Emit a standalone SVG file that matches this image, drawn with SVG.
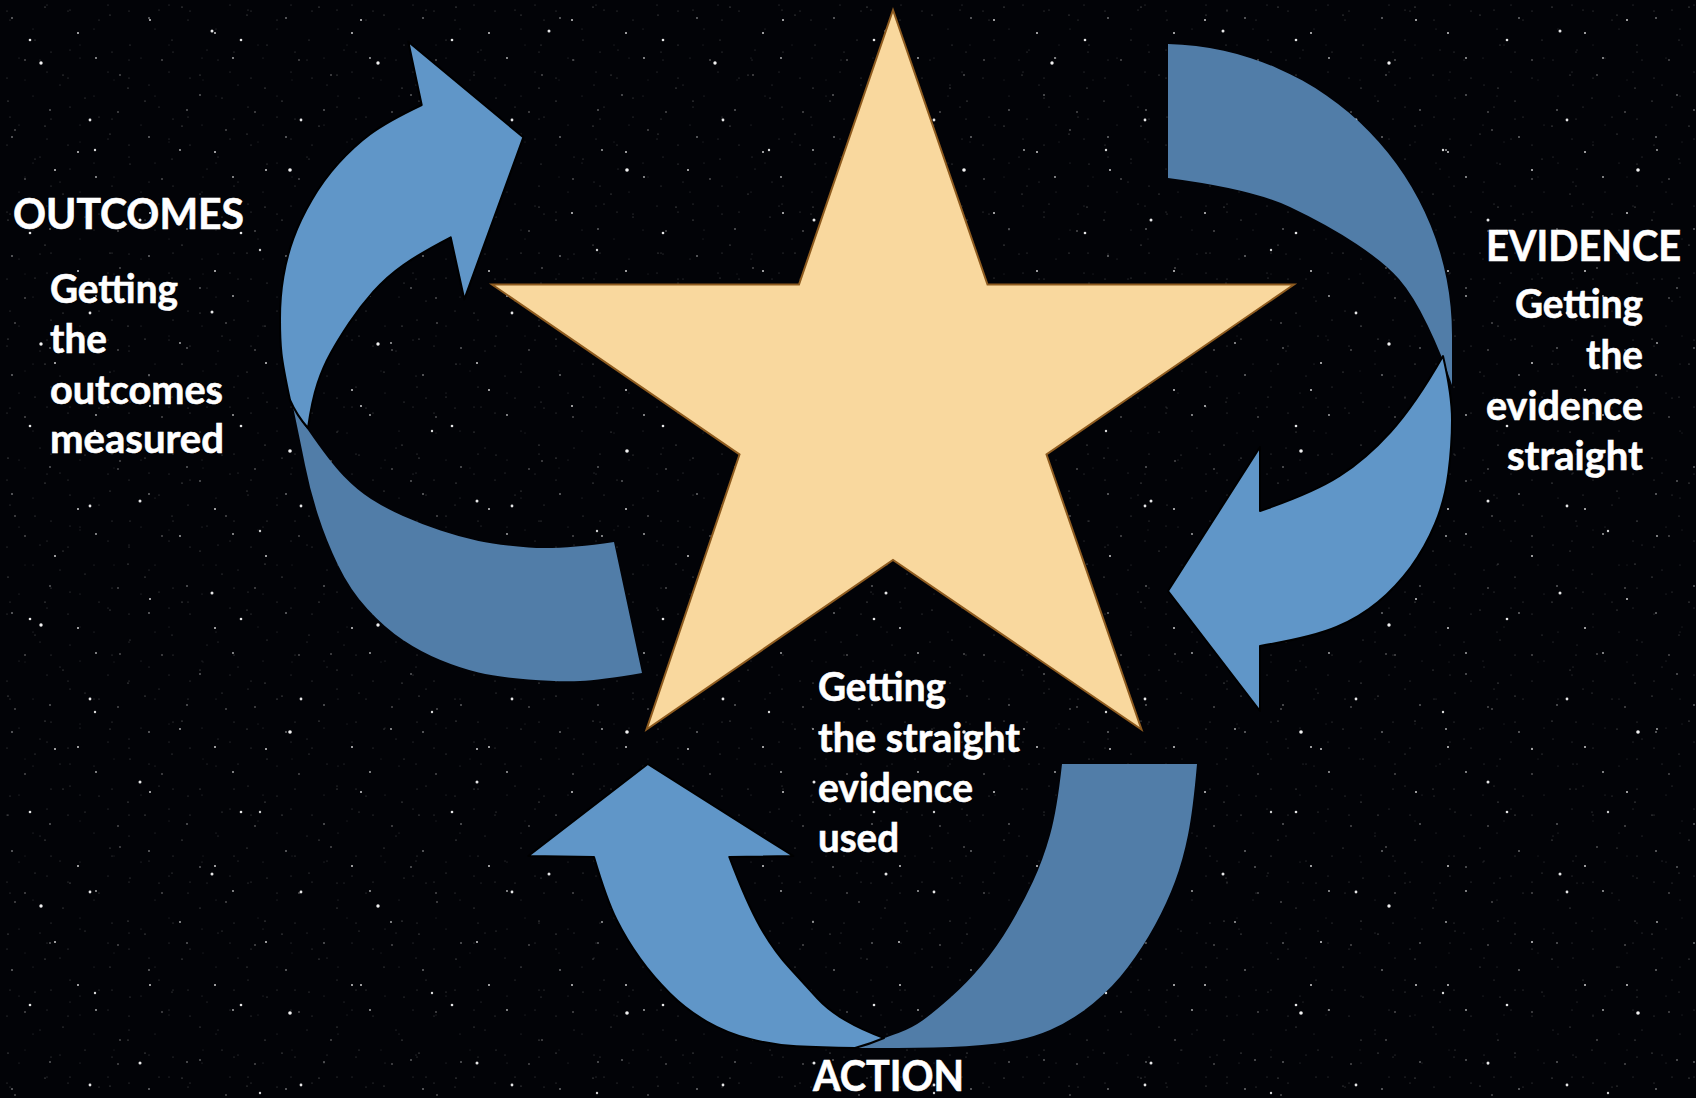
<svg xmlns="http://www.w3.org/2000/svg" width="1696" height="1098" viewBox="0 0 1696 1098">
<defs>
<style>
.bg{fill:#020307}
.sf{fill:#ffffff}
.star{fill:#F9D89E;stroke:#8E5B1F;stroke-width:2;stroke-linejoin:miter}
.dark{fill:#517DA8}
.light{fill:#6096C8;stroke:#000;stroke-width:2;stroke-linejoin:round}
.hd{font-family:Lato,"Open Sans","Liberation Sans",sans-serif;font-weight:bold;font-size:42px;fill:#fff;stroke:#fff;stroke-width:0.6}
.bd{font-family:Lato,"Open Sans","Liberation Sans",sans-serif;font-weight:bold;font-size:40px;fill:#fff;stroke:#fff;stroke-width:0.6}
</style>
<pattern id="p1" width="137" height="119" patternUnits="userSpaceOnUse">
<g class="sf">
<circle cx="12" cy="18" r="0.8" opacity="0.7"/><circle cx="45" cy="7" r="0.6" opacity="0.5"/><circle cx="78" cy="33" r="1" opacity="0.8"/><circle cx="110" cy="15" r="0.6" opacity="0.4"/><circle cx="25" cy="60" r="0.7" opacity="0.6"/><circle cx="63" cy="75" r="0.5" opacity="0.5"/><circle cx="96" cy="58" r="0.9" opacity="0.7"/><circle cx="128" cy="88" r="0.6" opacity="0.5"/><circle cx="8" cy="101" r="0.6" opacity="0.5"/><circle cx="50" cy="110" r="0.8" opacity="0.6"/><circle cx="85" cy="98" r="0.5" opacity="0.4"/><circle cx="118" cy="112" r="0.7" opacity="0.6"/><circle cx="35" cy="40" r="0.5" opacity="0.4"/><circle cx="70" cy="50" r="0.4" opacity="0.5"/><circle cx="130" cy="45" r="0.5" opacity="0.4"/>
</g>
</pattern>
<pattern id="p2" width="211" height="193" patternUnits="userSpaceOnUse">
<g class="sf">
<circle cx="30" cy="40" r="1.3" opacity="0.9"/><circle cx="150" cy="20" r="1" opacity="0.8"/><circle cx="90" cy="120" r="1.4" opacity="0.9"/><circle cx="180" cy="150" r="0.9" opacity="0.7"/><circle cx="55" cy="170" r="1" opacity="0.8"/><circle cx="120" cy="75" r="0.7" opacity="0.6"/><circle cx="200" cy="95" r="0.8" opacity="0.6"/><circle cx="15" cy="130" r="0.7" opacity="0.6"/>
</g>
</pattern>
<pattern id="p3" width="89" height="97" patternUnits="userSpaceOnUse">
<g class="sf">
<circle cx="10" cy="20" r="0.5" opacity="0.35"/><circle cx="40" cy="60" r="0.5" opacity="0.3"/><circle cx="70" cy="10" r="0.5" opacity="0.35"/><circle cx="60" cy="85" r="0.5" opacity="0.3"/><circle cx="25" cy="80" r="0.4" opacity="0.3"/><circle cx="80" cy="45" r="0.45" opacity="0.3"/>
</g>
</pattern>
<pattern id="p4" width="61" height="67" patternUnits="userSpaceOnUse">
<g class="sf">
<circle cx="7" cy="11" r="0.55" opacity="0.3"/><circle cx="33" cy="29" r="0.5" opacity="0.25"/><circle cx="51" cy="52" r="0.55" opacity="0.3"/><circle cx="19" cy="58" r="0.5" opacity="0.25"/><circle cx="47" cy="5" r="0.5" opacity="0.3"/>
</g>
</pattern>
<pattern id="p5" width="337" height="281" patternUnits="userSpaceOnUse">
<g class="sf">
<circle cx="41" cy="63" r="1.7" opacity="0.95"/><circle cx="212" cy="31" r="1.5" opacity="0.9"/><circle cx="290" cy="170" r="1.8" opacity="0.95"/><circle cx="140" cy="220" r="1.5" opacity="0.9"/><circle cx="95" cy="150" r="1.2" opacity="0.85"/><circle cx="260" cy="250" r="1.2" opacity="0.8"/>
</g>
</pattern>
</defs>

<g id="background">
<rect class="bg" x="0" y="0" width="1696" height="1098"/>
<rect x="0" y="0" width="1696" height="1098" fill="url(#p4)"/>
<rect x="0" y="0" width="1696" height="1098" fill="url(#p3)"/>
<rect x="0" y="0" width="1696" height="1098" fill="url(#p1)"/>
<rect x="0" y="0" width="1696" height="1098" fill="url(#p2)"/>
<rect x="0" y="0" width="1696" height="1098" fill="url(#p5)"/>
</g>

<g id="star">
<polygon class="star" points="893,10 987.5,284.5 1294,284.5 1046.5,454.5 1141.5,729.5 893,560 646.5,729.5 739.5,454.5 492,284.5 799,284.5"/>
</g>

<g id="connectors">
<g id="arrow-outcomes">
<path class="dark" d="M 292,402 Q 300,440 305,465 Q 310,490 318,515 Q 326,540 338,565 Q 350,590 367.5,609 Q 385,628 403,640 Q 421,652 440.5,660 Q 460,668 478.5,672.5 Q 497,677 528.5,679.5 Q 560,682 580,681 Q 600,680 642,673 L 614,542 Q 560,550 528.5,547.5 Q 497,545 478.5,541 Q 460,537 440.5,530.5 Q 421,524 403,516 Q 385,508 371,499 Q 357,490 343.5,476 Q 330,462 308,430 Q 298,418 292,402 Z"/>
<path class="light" d="M 421.7,105 L 408.3,41.7 L 523.3,137.3 L 464.3,299.3 L 450.7,237.3 Q 420,253.3 403.4,265 Q 386.7,276.7 373.4,291.7 Q 360,306.7 349,323.4 Q 338,340 330.5,353.5 Q 323,367 317.5,383.5 Q 312,400 308,428 Q 297,416 290,400 Q 283,367 281.5,353.5 Q 280,340 280,318.4 Q 280,296.7 283.4,276.7 Q 286.7,256.7 293.4,238.4 Q 300,220 311.7,200 Q 323.3,180 338.3,163.4 Q 353.3,146.7 370,134.2 Q 386.7,121.7 421.7,105 Z"/>
</g>
<g id="arrow-evidence">
<path class="dark" d="M 1168,44 A 291 291 0 0 1 1452,335 L 1452,385 Q 1442,355 1427.5,325 Q 1413,295 1399,279 Q 1385,263 1356.5,244 Q 1328,225 1290,207 Q 1252,189 1168,178 Z"/>
<path class="light" d="M 1443,356 Q 1452,395 1452,420 Q 1452,445 1448.5,472.5 Q 1445,500 1435,524 Q 1425,548 1410.5,567.5 Q 1396,587 1378,602 Q 1360,617 1336.5,627 Q 1313,637 1260,646 L 1260,711 L 1168,591 L 1260,447 L 1260,511 Q 1313,493 1339.5,476 Q 1366,459 1390.5,432 Q 1415,405 1443,356 Z"/>
</g>
<g id="arrow-action">
<path class="dark" d="M 1062,764 L 1197,764 Q 1193,810 1188,835 Q 1183,860 1175,881.5 Q 1167,903 1155,925 Q 1143,947 1128,967 Q 1113,987 1093,1003.5 Q 1073,1020 1050,1030 Q 1027,1040 997,1043.5 Q 967,1047 933.5,1047.5 Q 900,1048 855,1048 Q 885,1038 898.5,1033 Q 912,1028 922.5,1020.5 Q 933,1013 950,998 Q 967,983 982,965 Q 997,947 1010,925 Q 1023,903 1033,881.5 Q 1043,860 1050,835 Q 1057,810 1062,764 Z"/>
<path class="light" d="M 729.3,857 L 793.3,856 L 647.7,764 L 528.3,856 L 594,857 Q 606.7,900 616.7,920 Q 626.7,940 639.9,958.4 Q 653,976.7 669.9,993.4 Q 686.7,1010 706.7,1021.5 Q 726.7,1033 749.9,1039 Q 773,1045 796.5,1046.3 Q 820,1047.5 855,1048 Q 870,1044 884,1038 Q 861.7,1030 844.9,1020 Q 828,1010 817.4,998.4 Q 806.7,986.7 790,968.4 Q 773.3,950 760,926.5 Q 746.7,903 729.3,857 Z"/>
</g>
</g>

<g id="outcomes">
<text class="hd" x="13" y="229" textLength="231" lengthAdjust="spacingAndGlyphs">OUTCOMES</text>
<text class="bd" x="50" y="303" textLength="128" lengthAdjust="spacingAndGlyphs">Getting</text>
<text class="bd" x="50" y="353" textLength="57" lengthAdjust="spacingAndGlyphs">the</text>
<text class="bd" x="50" y="404" textLength="173" lengthAdjust="spacingAndGlyphs">outcomes</text>
<text class="bd" x="50" y="453" textLength="174" lengthAdjust="spacingAndGlyphs">measured</text>
</g>

<g id="evidence">
<text class="hd" x="1681" y="261" text-anchor="end" textLength="195" lengthAdjust="spacingAndGlyphs">EVIDENCE</text>
<text class="bd" x="1643" y="318" text-anchor="end" textLength="128" lengthAdjust="spacingAndGlyphs">Getting</text>
<text class="bd" x="1643" y="369" text-anchor="end" textLength="57" lengthAdjust="spacingAndGlyphs">the</text>
<text class="bd" x="1643" y="420" text-anchor="end" textLength="157" lengthAdjust="spacingAndGlyphs">evidence</text>
<text class="bd" x="1643" y="470" text-anchor="end" textLength="136" lengthAdjust="spacingAndGlyphs">straight</text>
</g>

<g id="action">
<text class="bd" x="818" y="701" textLength="128" lengthAdjust="spacingAndGlyphs">Getting</text>
<text class="bd" x="818" y="752" textLength="202" lengthAdjust="spacingAndGlyphs">the straight</text>
<text class="bd" x="818" y="802" textLength="155" lengthAdjust="spacingAndGlyphs">evidence</text>
<text class="bd" x="818" y="852" textLength="81" lengthAdjust="spacingAndGlyphs">used</text>
<text class="hd" x="813" y="1091" textLength="151" lengthAdjust="spacingAndGlyphs">ACTION</text>
</g>
</svg>
